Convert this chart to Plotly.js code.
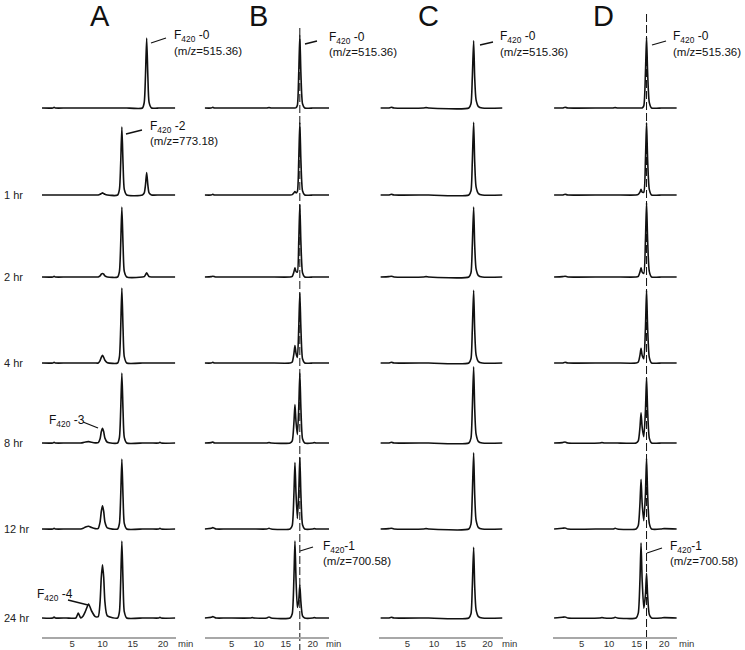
<!DOCTYPE html>
<html><head><meta charset="utf-8">
<script src="https://cdn.plot.ly/plotly-3.0.1.min.js"></script>
<style>html,body{margin:0;padding:0;background:#fff}</style>
</head><body><div id="chart" style="width:745px;height:650px"></div>
<script>
// ---------------- DATA ----------------
const columnLabels = ["A", "B", "C", "D"];
const rowLabels = ["", "1 hr", "2 hr", "4 hr", "8 hr", "12 hr", "24 hr"];
const tickValues = [5, 10, 15, 20];
const tickText = ["5", "10", "15", "20"];

// Column A: retention time (min) and relative signal per time point
const timeA = [0,1.8,2.0,2.2,4, 5.6,6.0,6.4, 6.8,7.2,7.7,8.2,8.8, 9.3,9.6,9.8,10.0,10.2,10.4,10.8, 12.5,12.8,13.0,13.2,13.4,13.6,14.0, 16.6,16.9,17.1,17.3,17.5,17.7,18.1, 19.3,19.5,19.7,22];
const sigA0 = [0,0,0.01,0,0, 0,0,0, 0,0,0,0,0, 0,0,0,0,0,0,0, 0,0,0,0,0,0,0, 0,0.08,0.45,1.0,0.45,0.08,0, 0,0,0,0];
const sigA1 = [0,0,0,0,0, 0,0,0, 0,0,0,0,0, 0,0.01,0.02,0.03,0.02,0.01,0, 0,0.08,0.44,0.97,0.44,0.08,0, 0,0.03,0.14,0.32,0.14,0.03,0, 0,0,0,0];
const sigA2 = [0,0,0.01,0,0, 0,0,0, 0,0,0,0,0, 0,0.015,0.04,0.05,0.04,0.015,0, 0,0.08,0.45,1.0,0.45,0.08,0, 0,0.005,0.03,0.06,0.03,0.005,0, 0,0,0,0];
const sigA3 = [0,0,0.01,0,0, 0,0,0, 0,0,0,0,0, 0,0.035,0.08,0.11,0.08,0.04,0.005, 0,0.09,0.48,1.07,0.48,0.09,0, 0,0,0,0,0,0,0, 0,0,0,0];
const sigA4 = [0,0,0.01,0,0, 0,0,0, 0.005,0.015,0.02,0.01,0.002, 0.005,0.06,0.16,0.21,0.16,0.07,0.01, 0,0.08,0.45,1.0,0.45,0.08,0, 0,0,0,0,0,0,0, 0,0.01,0,0];
const sigA5 = [0,0,0.01,0,0, 0,0,0, 0.01,0.03,0.04,0.02,0.005, 0.01,0.1,0.25,0.33,0.25,0.1,0.015, 0,0.08,0.45,1.0,0.45,0.08,0, 0,0,0,0,0,0,0, 0,0.01,0,0];
const sigA6 = [0,0,0.015,0,0, 0,0.07,0, 0.03,0.1,0.2,0.1,0.02, 0.02,0.23,0.58,0.76,0.58,0.23,0.03, 0,0.09,0.5,1.1,0.5,0.09,0, 0,0,0,0,0,0,0, 0,0.01,0,0];

// Column B
const timeB = [0,1.2,1.5,1.8,2.1,4, 8.5,8.8,9.1, 11.5,11.9,12.3, 15.8,16.2,16.5,16.7,16.9,17.15,17.4,17.6,17.8,18.1,18.5, 20,20.3,20.6,23];
const sigB0 = [0,0,0.01,0,0,0, 0,0,0, 0,0.005,0, 0,0,0,0,0.005,0.04,0.5,1.04,0.5,0.06,0, 0,0,0,0];
const sigB1 = [0,0,0.01,0,0,0, 0,0,0, 0,0,0, 0,0.005,0.03,0.05,0.03,0.05,0.5,1.03,0.5,0.06,0, 0,0,0,0];
const sigB2 = [0,0.005,0.01,0.005,0,0, 0,0,0, 0,0,0, 0,0.01,0.07,0.13,0.08,0.07,0.5,1.03,0.5,0.06,0, 0,0,0,0];
const sigB3 = [0,0,0.01,0,0,0, 0,0,0, 0,0,0, 0,0.015,0.13,0.25,0.14,0.08,0.5,1.0,0.5,0.06,0, 0,0,0,0];
const sigB4 = [0,0.005,0.015,0,0,0, 0,0,0, 0,0.005,0, 0,0.03,0.28,0.55,0.3,0.12,0.5,1.0,0.5,0.06,0, 0,0.005,0,0];
const sigB5 = [0,0.01,0.02,0.01,0,0, 0,0,0, 0,0.01,0, 0,0.05,0.48,0.95,0.5,0.15,0.52,1.02,0.5,0.06,0, 0,0.005,0,0];
const sigB6 = [0,0.01,0.02,0.01,0,0, 0,0.005,0, 0,0.015,0, 0,0.06,0.55,1.1,0.55,0.15,0.25,0.47,0.23,0.03,0, 0,0.005,0,0];

// Column C
const timeC = [0,1.5,2.0,2.5, 8.0,8.5,9.0, 16.5,16.9,17.15,17.4,17.6,17.85,18.3,19.0, 22.8];
const sigC0 = [0,0,0.01,0, 0,0.005,0, 0,0.06,0.43,0.96,0.43,0.12,0.02,0, 0];
const sigC1 = [0,0,0.01,0, 0,0,0, 0,0.06,0.47,1.04,0.47,0.12,0.02,0, 0];
const sigC2 = [0,0.005,0.01,0, 0,0.005,0, 0,0.06,0.45,1.0,0.45,0.12,0.02,0, 0];
const sigC3 = [0,0,0.01,0, 0,0,0, 0,0.06,0.47,1.04,0.47,0.12,0.02,0, 0];
const sigC4 = [0,0,0.01,0, 0,0,0, 0,0.07,0.49,1.09,0.49,0.13,0.02,0, 0];
const sigC5 = [0,0.005,0.01,0, 0,0.005,0, 0,0.07,0.49,1.09,0.49,0.13,0.02,0, 0];
const sigC6 = [0,0,0.01,0, 0,0,0, 0,0.06,0.45,1.01,0.45,0.12,0.02,0, 0];

// Column D
const timeD = [0,1.5,2.0,2.5, 8.3,8.7,9.1, 10.7,11.1,11.5, 14.9,15.3,15.6,15.8,16.0,16.3,16.6,16.8,17.0,17.3,17.7, 19.5,20,22.3];
const sigD0 = [0,0,0.01,0, 0,0,0, 0,0.005,0, 0,0,0,0,0,0.03,0.5,1.01,0.5,0.08,0, 0,0,0];
const sigD1 = [0,0,0.01,0, 0,0,0, 0,0,0, 0,0.01,0.04,0.08,0.04,0.04,0.5,1.03,0.5,0.08,0, 0,0,0];
const sigD2 = [0,0.005,0.01,0, 0,0,0, 0,0,0, 0,0.01,0.07,0.13,0.07,0.05,0.52,1.06,0.52,0.08,0, 0,0,0];
const sigD3 = [0,0,0.01,0, 0,0,0, 0,0,0, 0,0.015,0.11,0.21,0.11,0.06,0.5,1.04,0.5,0.08,0, 0,0,0];
const sigD4 = [0,0.005,0.015,0, 0,0.005,0, 0,0,0, 0,0.03,0.22,0.43,0.23,0.09,0.46,0.93,0.46,0.07,0, 0,0,0];
const sigD5 = [0,0.01,0.015,0, 0,0,0, 0,0.01,0, 0,0.05,0.36,0.71,0.37,0.12,0.5,1.01,0.5,0.08,0, 0,0.005,0];
const sigD6 = [0,0.01,0.015,0, 0,0.005,0, 0,0.01,0, 0,0.07,0.54,1.07,0.55,0.14,0.33,0.64,0.32,0.05,0, 0,0.005,0];

// retention time of F420-0 reference (dashed guide lines)
const refTimeB = 17.6;
const refTimeD = 16.8;

// ---------------- LAYOUT ----------------
const W = 745, H = 650;
const columns = [
  {t: timeA, rows: [sigA0,sigA1,sigA2,sigA3,sigA4,sigA5,sigA6], px: [42, 176], range: [0, 22.15], minX: 185},
  {t: timeB, rows: [sigB0,sigB1,sigB2,sigB3,sigB4,sigB5,sigB6], px: [204.7, 329], range: [0, 23], minX: 333},
  {t: timeC, rows: [sigC0,sigC1,sigC2,sigC3,sigC4,sigC5,sigC6], px: [378.5, 502.5], range: [-0.4, 22.8], minX: 509},
  {t: timeD, rows: [sigD0,sigD1,sigD2,sigD3,sigD4,sigD5,sigD6], px: [553, 676.8], range: [-0.2, 22.3], minX: 686}
];
const baselines = [108, 195, 277, 363, 443, 529, 618];
const below = 19, above = 80, pxPerUnit = 70;
const titleX = [100, 258, 428, 603];

const fy = p => 1 - p / H;
const fx = p => p / W;

const traces = [];
const layout = {
  width: W, height: H,
  margin: {l: 0, r: 0, t: 0, b: 0},
  paper_bgcolor: "#fff", plot_bgcolor: "rgba(0,0,0,0)",
  showlegend: false,
  font: {family: "Arial, 'Liberation Sans', sans-serif", color: "#111"},
  annotations: [], shapes: []
};

columns.forEach((col, ci) => {
  col.rows.forEach((sig, ri) => {
    const k = ci * 7 + ri + 1;
    const xs = k === 1 ? "" : String(k);
    traces.push({
      type: "scatter", mode: "lines",
      x: col.t, y: sig,
      xaxis: "x" + xs, yaxis: "y" + xs,
      line: {color: "#111", width: 1.6, shape: "spline", smoothing: 0.6},
      hoverinfo: "skip"
    });
    const base = baselines[ri];
    const isBottom = ri === 6;
    layout["xaxis" + xs] = {
      domain: [fx(col.px[0]), fx(col.px[1])],
      range: col.range,
      anchor: "y" + xs,
      showgrid: false, zeroline: false,
      showline: isBottom, linecolor: "#a8a8a8", linewidth: 1.5,
      showticklabels: isBottom, tickvals: tickValues, ticktext: tickText,
      ticks: "", ticklabelstandoff: -3, tickfont: {size: 9.5, color: "#333"},
      fixedrange: true
    };
    layout["yaxis" + xs] = {
      domain: [fy(base + below), fy(base - above)],
      range: [-below / pxPerUnit, above / pxPerUnit],
      anchor: "x" + xs,
      visible: false, showgrid: false, zeroline: false, fixedrange: true
    };
  });
  // column title
  layout.annotations.push({xref: "paper", yref: "paper", x: fx(titleX[ci]), y: fy(16),
    text: columnLabels[ci], showarrow: false, font: {size: 29, color: "#111"},
    xanchor: "center", yanchor: "middle"});
  // "min" label
  layout.annotations.push({xref: "paper", yref: "paper", x: fx(col.minX), y: fy(643),
    text: "min", showarrow: false, font: {size: 9.5, color: "#333"},
    xanchor: "center", yanchor: "middle"});
});

// row labels
rowLabels.forEach((lab, ri) => {
  if (!lab) return;
  layout.annotations.push({xref: "paper", yref: "paper", x: fx(2), y: fy(baselines[ri]),
    text: lab, showarrow: false, font: {size: 11, color: "#222"},
    xanchor: "left", yanchor: "middle"});
});

// dashed reference lines
layout.shapes.push({type: "line", xref: "x8", yref: "paper", x0: refTimeB, x1: refTimeB,
  y0: fy(28), y1: 0, line: {color: "#111", width: 1, dash: "8px,3px"}, layer: "below"});
layout.shapes.push({type: "line", xref: "x22", yref: "paper", x0: refTimeD, x1: refTimeD,
  y0: fy(14), y1: 0, line: {color: "#111", width: 1, dash: "8px,3px"}, layer: "below"});

// peak labels: [text line 1, text line 2, text x px, y1 px, y2 px, leader x0,y0,x1,y1]
const peakLabels = [
  ["F<sub>420</sub> -0", "(m/z=515.36)", 172, 36, 51, 151, 43, 166, 38],
  ["F<sub>420</sub> -2", "(m/z=773.18)", 148, 127, 141, 126, 134, 142, 130],
  ["F<sub>420</sub> -0", "(m/z=515.36)", 327, 38, 52, 305, 44, 317, 41],
  ["F<sub>420</sub> -0", "(m/z=515.36)", 498, 37, 52, 480, 45, 493, 42],
  ["F<sub>420</sub> -0", "(m/z=515.36)", 671, 37, 52, 652, 45, 666, 41],
  ["F<sub>420</sub> -3", "", 47, 421, 0, 83, 422, 98, 428],
  ["F<sub>420</sub> -4", "", 35, 595, 0, 68, 600, 88, 605],
  ["F<sub>420</sub>-1", "(m/z=700.58)", 321, 547, 561, 300, 551, 313, 547],
  ["F<sub>420</sub>-1", "(m/z=700.58)", 668, 547, 561, 647, 553, 662, 548]
];
peakLabels.forEach(p => {
  layout.annotations.push({xref: "paper", yref: "paper", x: fx(p[2]), y: fy(p[3]),
    text: p[0], showarrow: false, font: {size: 12, color: "#111"}, xanchor: "left", yanchor: "middle"});
  if (p[1]) layout.annotations.push({xref: "paper", yref: "paper", x: fx(p[2]), y: fy(p[4]),
    text: p[1], showarrow: false, font: {size: 11.5, color: "#111"}, xanchor: "left", yanchor: "middle"});
  layout.shapes.push({type: "line", xref: "paper", yref: "paper",
    x0: fx(p[5]), y0: fy(p[6]), x1: fx(p[7]), y1: fy(p[8]), line: {color: "#111", width: 1.3}});
});

Plotly.newPlot("chart", traces, layout, {displayModeBar: false, staticPlot: true});
</script>
</body></html>
